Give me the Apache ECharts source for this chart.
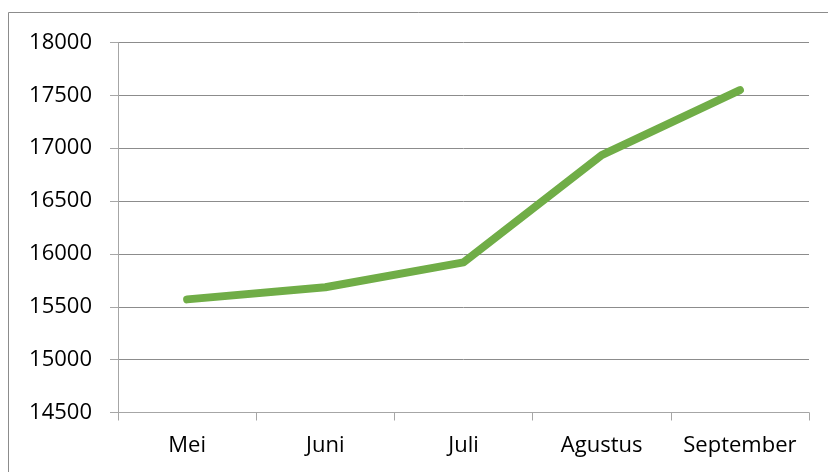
<!DOCTYPE html>
<html>
<head>
<meta charset="utf-8">
<script src="https://cdn.jsdelivr.net/npm/echarts@6/dist/echarts.min.js"></script>
<style>
html,body{margin:0;padding:0;background:#fff;}
#chart{width:828px;height:472px;}
</style>
</head>
<body>
<div id="chart"></div>
<script>
var categories = ['Mei', 'Juni', 'Juli', 'Agustus', 'September'];
var values = [15570, 15685, 15920, 16935, 17550];
var yMin = 14500, yMax = 18000, yStep = 500;

var chart = echarts.init(document.getElementById('chart'), null, {renderer: 'canvas'});
var font = '"Open Sans", "Liberation Sans", sans-serif';
chart.setOption({
  animation: false,
  backgroundColor: '#ffffff',
  graphic: [{
    type: 'rect',
    shape: {x: 8.5, y: 12.5, width: 840, height: 480},
    style: {fill: 'none', stroke: '#8c8c8c', lineWidth: 1},
    silent: true
  }],
  grid: {left: 118, right: 19, top: 42.5, bottom: 59.5, containLabel: false},
  xAxis: {
    type: 'category',
    data: categories,
    boundaryGap: true,
    axisLine: {show: true, lineStyle: {color: '#a6a6a6', width: 1}},
    axisTick: {show: true, length: 8, interval: 0, lineStyle: {color: '#a6a6a6'}},
    axisLabel: {color: '#000', fontSize: 22, fontFamily: font, margin: 22, interval: 0}
  },
  yAxis: {
    type: 'value',
    min: yMin, max: yMax, interval: yStep,
    axisLine: {show: true, lineStyle: {color: '#a6a6a6', width: 1}},
    axisTick: {show: true, length: 8, lineStyle: {color: '#a6a6a6'}},
    splitLine: {show: true, lineStyle: {color: '#8c8c8c', width: 1}},
    axisLabel: {color: '#000', fontSize: 22, fontFamily: font, margin: 26,
      formatter: function (v) { return String(v); }}
  },
  series: [{
    type: 'line',
    data: values,
    symbol: 'none',
    lineStyle: {color: '#70ad47', width: 8, cap: 'round', join: 'round'},
    itemStyle: {color: '#70ad47'}
  }]
});
</script>
</body>
</html>
